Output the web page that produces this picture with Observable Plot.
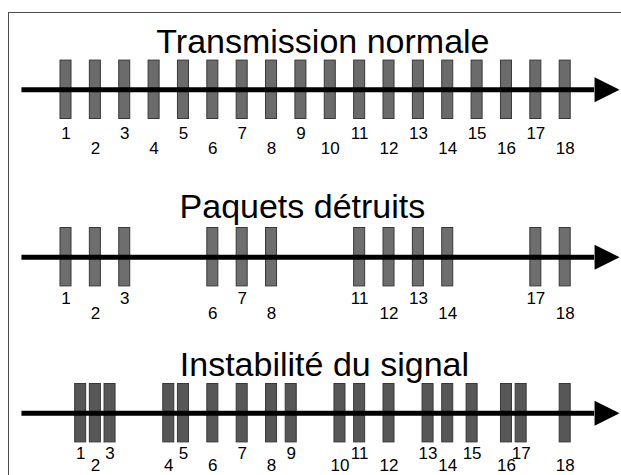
<!DOCTYPE html>
<html>
<head>
<meta charset="utf-8">
<script src="https://cdn.jsdelivr.net/npm/d3@7"></script>
<script src="https://cdn.jsdelivr.net/npm/@observablehq/plot@0.6"></script>
<style>
  body { margin: 0; background: #fff; }
  #wrap { position: relative; width: 621px; height: 475px; overflow: hidden; font-family: "Liberation Sans", Arial, sans-serif; }
  #wrap svg { display: block; overflow: visible; }
  #border { position: absolute; left: 8px; top: 12px; width: 650px; height: 520px; border: 1px solid #4d4d4d; pointer-events: none; }
</style>
</head>
<body>
<div id="wrap"><div id="border"></div></div>
<script>
// ---- data ----
const rowTitles = ["Transmission normale", "Paquets détruits", "Instabilité du signal"];

// packet numbers shown in each row
const normalPackets = [1, 2, 3, 4, 5, 6, 7, 8, 9, 10, 11, 12, 13, 14, 15, 16, 17, 18];
const lostPackets   = [1, 2, 3, 6, 7, 8, 11, 12, 13, 14, 17, 18];
const jitterPackets = [1, 2, 3, 4, 5, 6, 7, 8, 9, 10, 11, 12, 13, 14, 15, 16, 17, 18];

// arrival time of each packet (in nominal slot units)
const normalTimes = [1, 2, 3, 4, 5, 6, 7, 8, 9, 10, 11, 12, 13, 14, 15, 16, 17, 18];
const lostTimes   = [1, 2, 3, 6, 7, 8, 11, 12, 13, 14, 17, 18];
const jitterTimes = [1.5, 2, 2.5, 4.5, 5, 6, 7, 8, 8.67, 10.33, 11, 12, 13.33, 14, 14.83, 16, 16.5, 18];

// time axis extent
const axisStart = -0.5;
const axisEnd = 19;

// ---- layout / style per row ----
const rows = [
  {title: rowTitles[0], packets: normalPackets, times: normalTimes, height: 172, axisY: 89.3, titleX: 9.75, titleDy: -8, oddDy: 20, evenDy: 35, fill: "#6b6b6b"},
  {title: rowTitles[1], packets: lostPackets,   times: lostTimes,   height: 162, axisY: 84.7, titleX: 9.05, titleDy: -10, oddDy: 17.5, evenDy: 33, fill: "#6e6e6e"},
  {title: rowTitles[2], packets: jitterPackets, times: jitterTimes, height: 141, axisY: 78.7, titleX: 9.8, titleDy: -8, oddDy: 17, evenDy: 29, fill: "#575757"}
];

const barHalf = 0.1875;
const FONT = "Liberation Sans";

const arrowHead = {
  draw(context) {
    context.moveTo(0, -12.5);
    context.lineTo(25, 0);
    context.lineTo(0, 12.5);
    context.closePath();
  }
};

const wrap = document.getElementById("wrap");

for (const row of rows) {
  const data = row.packets.map((n, i) => ({n, t: row.times[i]}));
  const chart = Plot.plot({
    width: 621,
    height: row.height,
    margin: 0,
    style: {fontFamily: FONT, background: "transparent", overflow: "visible"},
    x: {domain: [1, 18], range: [65.5, 564.7], axis: null},
    y: {domain: [-1, 1], range: [row.axisY + 29.2, row.axisY - 29.2], axis: null},
    marks: [
      Plot.rect(data, {x1: d => d.t - barHalf, x2: d => d.t + barHalf, y1: -1, y2: 1, fill: row.fill, stroke: "#383838", strokeWidth: 1}),
      Plot.ruleY([0], {x1: axisStart, x2: axisEnd, stroke: "black", strokeWidth: 5}),
      Plot.dot([axisEnd], {x: d => d, y: 0, symbol: arrowHead, r: 10, fill: "black", stroke: "none"}),
      Plot.text(data.filter(d => d.n % 2 === 1), {x: "t", y: -1, text: d => String(d.n), fontSize: 17, fontFamily: FONT, fill: "black", lineAnchor: "bottom", dy: row.oddDy}),
      Plot.text(data.filter(d => d.n % 2 === 0), {x: "t", y: -1, text: d => String(d.n), fontSize: 17, fontFamily: FONT, fill: "black", lineAnchor: "bottom", dy: row.evenDy}),
      Plot.text([row.title], {x: row.titleX, y: 1, text: d => d, fontSize: 34, fontFamily: FONT, fill: "black", lineAnchor: "bottom", dy: row.titleDy})
    ]
  });
  wrap.appendChild(chart);
}
</script>
</body>
</html>
